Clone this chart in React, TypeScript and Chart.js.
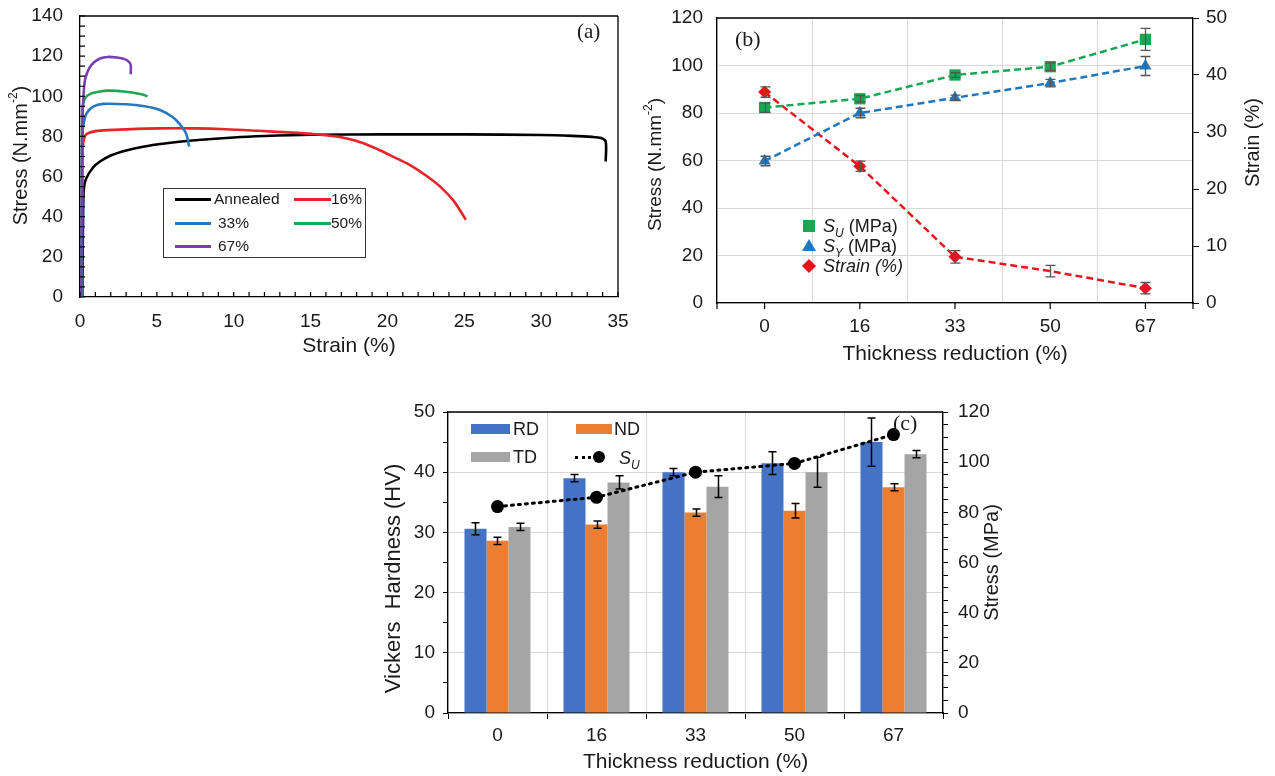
import React, { useEffect, useRef } from 'react';
import { Chart, registerables } from 'chart.js';

Chart.register(...registerables);

const FONT = "'Liberation Sans', Arial, sans-serif";
const SERIF = "'Liberation Serif', 'Times New Roman', serif";
const TXT = '#1a1a1a';

// ---------- Panel (a): stress-strain curves ----------
const annealedStrain = [0.15, 0.2, 0.25, 0.4, 0.85, 1.3, 2, 3, 4.1, 5.5, 7.3, 10, 12, 15, 20, 25, 30, 32, 33.3, 33.9, 34.2, 34.2];
const annealedStress = [0, 40, 54, 59, 64.5, 67.5, 70.5, 73, 74.9, 76.5, 78, 79.5, 80.2, 80.8, 81, 81, 80.7, 80.3, 79.8, 79.2, 77.5, 67.5];
const red16Strain = [0.12, 0.15, 0.17, 0.25, 0.45, 1.3, 3, 5.2, 7.5, 9.5, 11.6, 13.5, 15, 16.1, 17, 18.3, 19.4, 20.4, 21.5, 22.6, 23.5, 24.3, 24.9, 25.1];
const red16Stress = [0, 40, 72, 78.5, 81.3, 82.9, 83.5, 84, 84, 83.6, 82.8, 82, 81.3, 80.5, 79.6, 77, 73.5, 69.8, 65.6, 60, 54.5, 48, 41, 38.5];
const blue33Strain = [0.1, 0.12, 0.15, 0.25, 0.43, 0.86, 1.5, 3, 4.2, 5.2, 6, 6.45, 6.9, 7.1];
const blue33Stress = [0, 50, 80, 87, 91.5, 94.8, 96.2, 96, 95, 93.2, 89.8, 86.5, 81.5, 75];
const green50Strain = [0.1, 0.13, 0.17, 0.32, 0.7, 1.2, 1.9, 3, 4, 4.4];
const green50Stress = [0, 60, 94, 99, 101.3, 102.3, 102.8, 102.3, 101, 100];
const purple67Strain = [0.08, 0.12, 0.17, 0.25, 0.35, 0.6, 0.9, 1.3, 1.8, 2.4, 2.9, 3.2, 3.3, 3.3];
const purple67Stress = [0, 50, 90, 103, 109, 114, 116.8, 118.8, 119.6, 119.3, 118.5, 117, 115.5, 111];
const curveLabelsA = ['Annealed', '16%', '33%', '50%', '67%'];
const curveColorsA = ['#000000', '#e8232a', '#2878bd', '#1fa64f', '#7a3fb2'];
const curveOrderA = [4, 3, 2, 1, 0];
const xTicksMinorA = Array.from({ length: 36 }, (_, i) => i);
const yTicksMinorA = Array.from({ length: 29 }, (_, i) => i * 5);

// ---------- Panel (b) ----------
const thicknessLabels = ['0', '16', '33', '50', '67'];
const suValues = [82.3, 86, 96, 99.5, 111];
const suErrors = [2, 1.3, 1, 1.6, 4.6];
const syValues = [59.8, 80, 86.4, 92.6, 99.8];
const syErrors = [2, 2, 1.1, 1.6, 4];
const strainValues = [37, 24, 8.1, 5.6, 2.6];
const strainErrors = [0.9, 0.9, 1.1, 1, 1];
const strainMarkerRadius = [6.5, 6.5, 6.5, 0, 6.5];

// ---------- Panel (c) ----------
const rdValues = [30.6, 39, 40, 41.5, 45];
const rdErrors = [1, 0.6, 0.6, 1.9, 4];
const ndValues = [28.6, 31.3, 33.3, 33.6, 37.5];
const ndErrors = [0.6, 0.6, 0.6, 1.2, 0.6];
const tdValues = [30.9, 38.3, 37.6, 40, 43];
const tdErrors = [0.6, 1.1, 1.8, 2.5, 0.6];

const GREEN = '#1aa653';
const BLUE_B = '#1f77c0';
const RED_B = '#e8141c';
const RD_C = '#4472c4';
const ND_C = '#ed7d31';
const TD_C = '#a5a5a5';

// ---------- plugins ----------
type Seg = { t: string; sup?: boolean; italic?: boolean };
function vTitle(id: string, segs: Seg[], x: number, dy: number, size: number) {
  return {
    id,
    afterDraw(chart: any) {
      const { ctx, chartArea } = chart;
      ctx.save();
      ctx.translate(x, (chartArea.top + chartArea.bottom) / 2 + dy);
      ctx.rotate(-Math.PI / 2);
      ctx.fillStyle = TXT;
      ctx.textBaseline = 'middle';
      ctx.textAlign = 'left';
      const fontOf = (s: Seg) => `${s.italic ? 'italic ' : ''}${s.sup ? Math.round(size * 0.62) : size}px ${FONT}`;
      let total = 0;
      segs.forEach((s) => { ctx.font = fontOf(s); total += ctx.measureText(s.t).width; });
      let cx = -total / 2;
      segs.forEach((s) => {
        ctx.font = fontOf(s);
        ctx.fillText(s.t, cx, s.sup ? -size * 0.38 : 0);
        cx += ctx.measureText(s.t).width;
      });
      ctx.restore();
    },
  };
}

function frame(id: string, sides: string[], color: string, width: number) {
  return {
    id,
    afterDraw(chart: any) {
      const { ctx } = chart;
      const { left, right, top, bottom } = chart.chartArea;
      ctx.save();
      ctx.strokeStyle = color;
      ctx.lineWidth = width;
      ctx.beginPath();
      if (sides.includes('top')) { ctx.moveTo(left, top); ctx.lineTo(right, top); }
      if (sides.includes('right')) { ctx.moveTo(right, top); ctx.lineTo(right, bottom); }
      if (sides.includes('left')) { ctx.moveTo(left, top); ctx.lineTo(left, bottom); }
      if (sides.includes('bottom')) { ctx.moveTo(left, bottom); ctx.lineTo(right, bottom); }
      ctx.stroke();
      ctx.restore();
    },
  };
}

function inwardTicks(id: string, xs: number[], ys: number[], len: number) {
  return {
    id,
    afterDraw(chart: any) {
      const { ctx, chartArea } = chart;
      const sx = chart.scales.x;
      const sy = chart.scales.y;
      ctx.save();
      ctx.strokeStyle = '#000';
      ctx.lineWidth = 1.2;
      ctx.beginPath();
      xs.forEach((v) => { const p = sx.getPixelForValue(v); ctx.moveTo(p, chartArea.bottom); ctx.lineTo(p, chartArea.bottom - len); });
      ys.forEach((v) => { const p = sy.getPixelForValue(v); ctx.moveTo(chartArea.left, p); ctx.lineTo(chartArea.left + len, p); });
      ctx.stroke();
      ctx.restore();
    },
  };
}

function centerTicks(id: string, n: number, len: number) {
  return {
    id,
    afterDraw(chart: any) {
      const { ctx, chartArea } = chart;
      const sx = chart.scales.x;
      ctx.save();
      ctx.strokeStyle = '#000';
      ctx.lineWidth = 1.2;
      ctx.beginPath();
      for (let i = 0; i < n; i++) {
        const p = sx.getPixelForValue(i);
        ctx.moveTo(p, chartArea.bottom); ctx.lineTo(p, chartArea.bottom + len);
      }
      ctx.moveTo(chartArea.left, chartArea.bottom); ctx.lineTo(chartArea.left, chartArea.bottom + len);
      ctx.moveTo(chartArea.right, chartArea.bottom); ctx.lineTo(chartArea.right, chartArea.bottom + len);
      ctx.stroke();
      ctx.restore();
    },
  };
}

type ErrItem = { dataset: number; errors: number[]; color: string; cap: number; width: number };
function errorBars(id: string, items: ErrItem[]) {
  return {
    id,
    afterDatasetsDraw(chart: any) {
      const { ctx } = chart;
      items.forEach((it) => {
        const meta = chart.getDatasetMeta(it.dataset);
        const ds = chart.data.datasets[it.dataset];
        const ys = chart.scales[meta.yAxisID];
        ctx.save();
        ctx.strokeStyle = it.color;
        ctx.lineWidth = it.width;
        ctx.beginPath();
        meta.data.forEach((el: any, i: number) => {
          const v = ds.data[i] as number;
          const e = it.errors[i];
          const x = Math.round(el.x) + 0.5;
          const y1 = ys.getPixelForValue(v - e);
          const y2 = ys.getPixelForValue(v + e);
          ctx.moveTo(x, y1); ctx.lineTo(x, y2);
          ctx.moveTo(x - it.cap, y1); ctx.lineTo(x + it.cap, y1);
          ctx.moveTo(x - it.cap, y2); ctx.lineTo(x + it.cap, y2);
        });
        ctx.stroke();
        ctx.restore();
      });
    },
  };
}

const fitV = (w: number) => (s: any) => { s.width = w; s.paddingTop = 0; s.paddingBottom = 0; };
const fitH = (h: number) => (s: any) => { s.height = h; s.paddingLeft = 0; s.paddingRight = 0; };

// ---------- configs ----------
const pts = (xs: number[], ys: number[]) => xs.map((x, i) => ({ x, y: ys[i] }));

function configA(): any {
  const strains = [annealedStrain, red16Strain, blue33Strain, green50Strain, purple67Strain];
  const stresses = [annealedStress, red16Stress, blue33Stress, green50Stress, purple67Stress];
  return {
    type: 'scatter',
    data: {
      datasets: curveLabelsA.map((label, k) => ({
        label,
        data: pts(strains[k], stresses[k]),
        showLine: true,
        borderColor: curveColorsA[k],
        backgroundColor: curveColorsA[k],
        borderWidth: 2.6,
        pointRadius: 0,
        tension: 0.3,
        order: curveOrderA[k],
      })),
    },
    options: {
      responsive: false,
      animation: false,
      events: [],
      layout: { padding: { top: 16, right: 22, left: 0, bottom: 0 } },
      plugins: { legend: { display: false }, tooltip: { enabled: false } },
      scales: {
        x: {
          type: 'linear', min: 0, max: 35,
          ticks: { stepSize: 5, padding: 5, color: TXT, font: { size: 19, family: FONT }, maxRotation: 0 },
          grid: { display: false },
          border: { display: true, color: '#000', width: 1.3 },
          title: { display: true, text: 'Strain (%)', color: TXT, font: { size: 21, family: FONT }, padding: { top: 0, bottom: 6 } },
          afterFit: fitH(68),
        },
        y: {
          type: 'linear', min: 0, max: 140,
          ticks: { stepSize: 20, padding: 9, color: TXT, font: { size: 19, family: FONT } },
          grid: { display: false },
          border: { display: true, color: '#000', width: 1.3 },
          afterFit: fitV(80),
        },
      },
    },
    plugins: [
      frame('frameA', ['top', 'right'], '#000', 1.3),
      inwardTicks('ticksA', xTicksMinorA, yTicksMinorA, 5),
      vTitle('titleA', [{ t: 'Stress (N.mm' }, { t: '-2', sup: true }, { t: ')' }], 21, -1, 20),
    ],
  };
}

function configB(): any {
  return {
    type: 'line',
    data: {
      labels: thicknessLabels,
      datasets: [
        { label: 'SU (MPa)', data: suValues, yAxisID: 'y', borderColor: GREEN, backgroundColor: GREEN, borderDash: [7, 4], borderWidth: 2.5, pointStyle: 'rect', pointRadius: 8, pointBorderWidth: 0 },
        { label: 'SY (MPa)', data: syValues, yAxisID: 'y', borderColor: BLUE_B, backgroundColor: BLUE_B, borderDash: [7, 4], borderWidth: 2.5, pointStyle: 'triangle', pointRadius: 7, pointBorderWidth: 0 },
        { label: 'Strain (%)', data: strainValues, yAxisID: 'y1', borderColor: RED_B, backgroundColor: RED_B, borderDash: [7, 4], borderWidth: 2.5, pointStyle: 'rectRot', pointRadius: strainMarkerRadius, pointBorderWidth: 0 },
      ],
    },
    options: {
      responsive: false,
      animation: false,
      events: [],
      layout: { padding: { top: 18, right: 0, left: 0, bottom: 0 } },
      plugins: { legend: { display: false }, tooltip: { enabled: false } },
      scales: {
        x: {
          offset: true,
          ticks: { padding: 12, color: TXT, font: { size: 19, family: FONT } },
          grid: { offset: true, color: '#d9d9d9', drawTicks: false },
          border: { color: '#000', width: 1.3 },
          title: { display: true, text: 'Thickness reduction (%)', color: TXT, font: { size: 21, family: FONT }, padding: { top: 0, bottom: 8 } },
          afterFit: fitH(72),
        },
        y: {
          position: 'left', min: 0, max: 120,
          ticks: { stepSize: 20, padding: 14, color: TXT, font: { size: 19, family: FONT } },
          grid: { color: '#d9d9d9', drawTicks: false },
          border: { color: '#000', width: 1.3 },
          afterFit: fitV(87),
        },
        y1: {
          position: 'right', min: 0, max: 50,
          ticks: { stepSize: 10, padding: 7, color: TXT, font: { size: 19, family: FONT } },
          grid: { drawOnChartArea: false, color: '#000', tickLength: 6 },
          border: { color: '#000', width: 1.3 },
          afterFit: fitV(82),
        },
      },
    },
    plugins: [
      frame('frameB', ['top'], '#000', 1.3),
      centerTicks('ticksB', thicknessLabels.length, 6),
      errorBars('errB', [
        { dataset: 0, errors: suErrors, color: '#555', cap: 5, width: 1.3 },
        { dataset: 1, errors: syErrors, color: '#555', cap: 5, width: 1.3 },
        { dataset: 2, errors: strainErrors, color: '#555', cap: 5, width: 1.3 },
      ]),
      vTitle('titleBL', [{ t: 'Stress (N.mm' }, { t: '-2', sup: true }, { t: ')' }], 26, 4, 19),
      vTitle('titleBR', [{ t: 'Strain (%)' }], 623, -18, 20),
    ],
  };
}

function configC(): any {
  return {
    type: 'bar',
    data: {
      labels: thicknessLabels,
      datasets: [
        { type: 'line', label: 'SU', data: suValues, yAxisID: 'y1', borderColor: '#000', backgroundColor: '#000', borderDash: [2, 5], borderCapStyle: 'round', borderWidth: 3, pointRadius: 6.5, pointBorderWidth: 0, order: 0 },
        { label: 'RD', data: rdValues, backgroundColor: RD_C, yAxisID: 'y', categoryPercentage: 0.667, barPercentage: 1, order: 1 },
        { label: 'ND', data: ndValues, backgroundColor: ND_C, yAxisID: 'y', categoryPercentage: 0.667, barPercentage: 1, order: 1 },
        { label: 'TD', data: tdValues, backgroundColor: TD_C, yAxisID: 'y', categoryPercentage: 0.667, barPercentage: 1, order: 1 },
      ],
    },
    options: {
      responsive: false,
      animation: false,
      events: [],
      layout: { padding: { top: 17, right: 0, left: 0, bottom: 0 } },
      plugins: { legend: { display: false }, tooltip: { enabled: false } },
      scales: {
        x: {
          ticks: { padding: 5, color: TXT, font: { size: 19, family: FONT } },
          grid: { offset: true, color: '#d9d9d9', tickColor: '#000', tickLength: 6 },
          border: { color: '#000', width: 1.3 },
          title: { display: true, text: 'Thickness reduction (%)', color: TXT, font: { size: 21, family: FONT }, padding: { top: 0, bottom: 1 } },
          afterFit: fitH(63),
        },
        y: {
          position: 'left', min: 0, max: 50,
          ticks: { stepSize: 5, autoSkip: false, padding: 8, color: TXT, font: { size: 19, family: FONT }, callback: (v: any) => (v % 10 === 0 ? String(v) : '') },
          grid: { color: (c: any) => (c.tick && c.tick.value % 10 === 0 ? '#d9d9d9' : 'rgba(0,0,0,0)'), tickColor: '#000', tickLength: 5 },
          border: { color: '#000', width: 1.3 },
          afterFit: fitV(78),
        },
        y1: {
          position: 'right', min: 0, max: 120,
          ticks: { stepSize: 5, autoSkip: false, padding: 10, color: TXT, font: { size: 19, family: FONT }, callback: (v: any) => (v % 20 === 0 ? String(v) : '') },
          grid: { drawOnChartArea: false, color: '#000', tickColor: '#000', tickLength: 5 },
          border: { color: '#000', width: 1.3 },
          afterFit: fitV(77),
        },
      },
    },
    plugins: [
      frame('frameC', ['top'], '#000', 1.3),
      errorBars('errC', [
        { dataset: 1, errors: rdErrors, color: '#000', cap: 4, width: 1.5 },
        { dataset: 2, errors: ndErrors, color: '#000', cap: 4, width: 1.5 },
        { dataset: 3, errors: tdErrors, color: '#000', cap: 4, width: 1.5 },
      ]),
      vTitle('titleCL', [{ t: 'Vickers  Hardness (HV)' }], 24, 16, 22),
      vTitle('titleCR', [{ t: 'Stress (MPa)' }], 622, 0, 20),
    ],
  };
}

// ---------- components ----------
function ChartCanvas(props: { left: number; top: number; width: number; height: number; make: () => any }) {
  const ref = useRef<HTMLCanvasElement>(null);
  useEffect(() => {
    const chart = new Chart(ref.current as HTMLCanvasElement, props.make());
    return () => chart.destroy();
  }, []);
  return (
    <canvas
      ref={ref}
      width={props.width}
      height={props.height}
      style={{ position: 'absolute', left: props.left, top: props.top, width: props.width, height: props.height }}
    />
  );
}

function Txt(props: { x: number; y: number; size: number; italic?: boolean; serif?: boolean; children: any }) {
  return (
    <div
      style={{
        position: 'absolute', left: props.x, top: props.y - 12, height: 24, lineHeight: '24px',
        fontSize: props.size, fontFamily: props.serif ? SERIF : FONT, fontStyle: props.italic ? 'italic' : 'normal',
        color: TXT, whiteSpace: 'nowrap',
      }}
    >
      {props.children}
    </div>
  );
}

function Box(props: { x: number; y: number; w: number; h: number; color: string; extra?: any }) {
  return <div style={{ position: 'absolute', left: props.x, top: props.y, width: props.w, height: props.h, background: props.color, ...(props.extra || {}) }} />;
}

export default function App() {
  return (
    <div style={{ position: 'fixed', left: 0, top: 0, width: 1275, height: 776, background: '#fff', overflow: 'hidden', fontFamily: FONT }}>
      <ChartCanvas left={0} top={0} width={640} height={365} make={configA} />
      <ChartCanvas left={630} top={0} width={645} height={375} make={configB} />
      <ChartCanvas left={370} top={395} width={650} height={381} make={configC} />

      {/* Panel (a) legend */}
      <div style={{ position: 'absolute', left: 163, top: 188, width: 203, height: 70, border: '1.5px solid #333', boxSizing: 'border-box', background: '#fff' }} />
      <Box x={175} y={197.5} w={36} h={3} color={curveColorsA[0]} />
      <Txt x={214} y={199} size={15.5}>{curveLabelsA[0]}</Txt>
      <Box x={294} y={197.5} w={37} h={3} color={curveColorsA[1]} />
      <Txt x={331} y={199} size={15.5}>{curveLabelsA[1]}</Txt>
      <Box x={175} y={221.5} w={36} h={3} color={curveColorsA[2]} />
      <Txt x={218} y={223} size={15.5}>{curveLabelsA[2]}</Txt>
      <Box x={294} y={221.5} w={37} h={3} color={curveColorsA[3]} />
      <Txt x={331} y={223} size={15.5}>{curveLabelsA[3]}</Txt>
      <Box x={175} y={244.5} w={36} h={3} color={curveColorsA[4]} />
      <Txt x={218} y={246} size={15.5}>{curveLabelsA[4]}</Txt>
      <Txt x={577} y={31} size={21} serif>(a)</Txt>

      {/* Panel (b) legend */}
      <Box x={803} y={220} w={12} h={12} color={GREEN} />
      <Txt x={823} y={226} size={18}><i>S</i><sub style={{ fontSize: 12, fontStyle: 'italic' }}>U</sub> (MPa)</Txt>
      <div style={{ position: 'absolute', left: 802, top: 239, width: 0, height: 0, borderLeft: '7px solid transparent', borderRight: '7px solid transparent', borderBottom: '12px solid ' + BLUE_B }} />
      <Txt x={823} y={246} size={18}><i>S</i><sub style={{ fontSize: 12, fontStyle: 'italic' }}>Y</sub> (MPa)</Txt>
      <Box x={804} y={261} w={10} h={10} color={RED_B} extra={{ transform: 'rotate(45deg)' }} />
      <Txt x={823} y={266} size={18} italic>Strain (%)</Txt>
      <Txt x={735} y={39} size={22} serif>(b)</Txt>

      {/* Panel (c) legend */}
      <Box x={471} y={424} w={39} h={10} color={RD_C} />
      <Txt x={513} y={429} size={18}>RD</Txt>
      <Box x={576} y={424} w={36} h={10} color={ND_C} />
      <Txt x={614} y={429} size={18}>ND</Txt>
      <Box x={471} y={452} w={39} h={10} color={TD_C} />
      <Txt x={513} y={457} size={18}>TD</Txt>
      <div style={{ position: 'absolute', left: 575, top: 455.5, width: 22, height: 0, borderTop: '3px dotted #000' }} />
      <div style={{ position: 'absolute', left: 593, top: 451, width: 12, height: 12, borderRadius: 6, background: '#000' }} />
      <Txt x={619} y={458} size={18}><i>S</i><sub style={{ fontSize: 12, fontStyle: 'italic' }}>U</sub></Txt>
      <Txt x={893} y={423} size={22} serif>(c)</Txt>
    </div>
  );
}
